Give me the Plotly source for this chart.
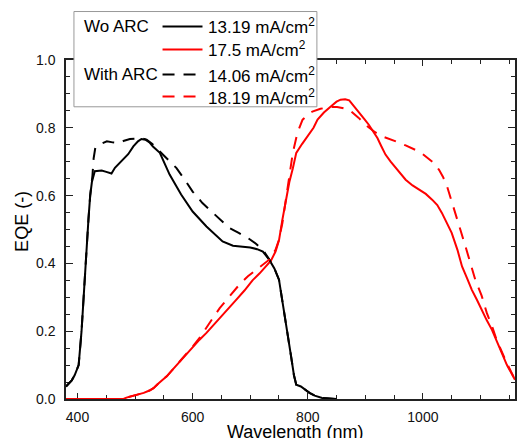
import plotly.graph_objects as go

# ---------------- data ----------------
wl_black_solid = [380, 385, 390, 395, 402, 407, 410, 413, 416, 419, 422, 425, 430, 436, 442, 450, 459, 465,
                  472, 480, 488, 497, 505, 511, 518, 525, 531, 543, 560, 580, 600, 624, 652, 670, 690, 700,
                  712, 722, 733, 742, 750, 756, 763, 771, 776, 780, 788, 795, 803, 812, 825, 850]
eqe_black_solid = [0.037, 0.045, 0.055, 0.07, 0.10, 0.20, 0.29, 0.37, 0.45, 0.53, 0.60, 0.64, 0.672, 0.674,
                   0.674, 0.670, 0.665, 0.682, 0.695, 0.708, 0.722, 0.745, 0.76, 0.767, 0.765, 0.757, 0.745,
                   0.726, 0.662, 0.603, 0.553, 0.509, 0.465, 0.452, 0.448, 0.447, 0.442, 0.435, 0.411, 0.385,
                   0.352, 0.29, 0.22, 0.126, 0.07, 0.042, 0.037, 0.027, 0.018, 0.01, 0.003, 0.0]

wl_black_dash = [380, 385, 390, 395, 402, 407, 410, 413, 416, 419, 422, 425, 426, 428, 431, 440, 451, 461,
                 471, 481, 491, 501, 511, 520, 530, 543, 557, 572, 587, 600, 617, 635, 650, 664, 680, 696,
                 710, 722, 733, 742, 750, 756, 763, 771, 776, 780, 788, 795, 803, 812, 825, 850]
eqe_black_dash = [0.037, 0.045, 0.055, 0.07, 0.10, 0.20, 0.29, 0.37, 0.45, 0.53, 0.60, 0.64, 0.66, 0.71,
                  0.742, 0.752, 0.760, 0.757, 0.755, 0.762, 0.767, 0.768, 0.770, 0.765, 0.752, 0.730, 0.705,
                  0.681, 0.645, 0.612, 0.578, 0.549, 0.525, 0.504, 0.49, 0.475, 0.458, 0.440, 0.412, 0.385,
                  0.352, 0.29, 0.22, 0.126, 0.07, 0.042, 0.037, 0.027, 0.018, 0.01, 0.003, 0.0]

wl_red_solid = [380, 480, 485, 495, 503, 515, 525, 532, 540, 548, 555, 566, 578, 590, 601, 612, 624, 636,
                647, 660, 676, 690, 704, 716, 726, 736, 744, 750, 756, 762, 768, 774, 780, 790, 800, 810,
                817, 828, 840, 850, 857, 865, 872, 880, 889, 898, 906, 914, 921, 928, 935, 944, 953, 962,
                970, 982, 993, 1005, 1016, 1025, 1033, 1042, 1050, 1060, 1068, 1077, 1085, 1094, 1102,
                1111, 1120, 1129, 1137, 1146, 1153, 1160]
eqe_red_solid = [0.0, 0.0, 0.004, 0.008, 0.011, 0.018, 0.025, 0.032, 0.045, 0.057, 0.067, 0.088, 0.111,
                 0.134, 0.155, 0.175, 0.195, 0.217, 0.239, 0.262, 0.293, 0.32, 0.35, 0.37, 0.39, 0.408,
                 0.435, 0.468, 0.53, 0.588, 0.64, 0.68, 0.726, 0.752, 0.775, 0.80, 0.824, 0.845, 0.863,
                 0.877, 0.883, 0.884, 0.881, 0.865, 0.844, 0.826, 0.809, 0.79, 0.770, 0.745, 0.721, 0.70,
                 0.681, 0.664, 0.647, 0.63, 0.617, 0.605, 0.588, 0.572, 0.549, 0.52, 0.49, 0.44, 0.391,
                 0.355, 0.322, 0.292, 0.263, 0.232, 0.204, 0.17, 0.136, 0.10, 0.08, 0.057]

wl_red_dash = [380, 480, 485, 495, 503, 515, 525, 532, 540, 548, 555, 566, 578, 590, 601, 612, 621, 634,
               647, 664, 681, 696, 710, 722, 733, 744, 750, 756, 762, 768, 774, 782, 791, 800, 808, 822,
               837, 851, 862, 872, 888, 904, 917, 929, 941, 953, 970, 987, 1000, 1013, 1020, 1028, 1035,
               1042, 1049, 1056, 1065, 1074, 1083, 1091, 1102, 1111, 1120, 1128, 1137, 1146, 1160]
eqe_red_dash = [0.0, 0.0, 0.004, 0.008, 0.011, 0.018, 0.025, 0.032, 0.045, 0.057, 0.067, 0.088, 0.111,
                0.134, 0.157, 0.180, 0.204, 0.236, 0.268, 0.303, 0.337, 0.362, 0.381, 0.395, 0.411, 0.44,
                0.47, 0.52, 0.585, 0.647, 0.726, 0.785, 0.824, 0.838, 0.848, 0.856, 0.861, 0.861, 0.858,
                0.853, 0.83, 0.804, 0.787, 0.775, 0.768, 0.760, 0.748, 0.735, 0.722, 0.706, 0.695, 0.676,
                0.655, 0.627, 0.59, 0.549, 0.50, 0.450, 0.40, 0.352, 0.305, 0.254, 0.215, 0.175, 0.14,
                0.105, 0.057]

legend_groups = ["Wo ARC", "", "With ARC", ""]
legend_labels = ["13.19 mA/cm<sup>2</sup>", "17.5 mA/cm<sup>2</sup>",
                 "14.06 mA/cm<sup>2</sup>", "18.19 mA/cm<sup>2</sup>"]
colors = ["#000000", "#ff0000", "#000000", "#ff0000"]
dashes = ["solid", "solid", "12px,9px", "12px,9px"]

x_title = "Wavelength (nm)"
y_title = "EQE (-)"

# ---------------- figure ----------------
series = [(wl_black_solid, eqe_black_solid), (wl_red_solid, eqe_red_solid),
          (wl_black_dash, eqe_black_dash), (wl_red_dash, eqe_red_dash)]

fig = go.Figure()
for (xs, ys), c, d in zip(series, colors, dashes):
    fig.add_trace(go.Scatter(x=xs, y=ys, mode="lines",
                             line=dict(color=c, width=2, dash=d), showlegend=False))

FONT = "Liberation Sans, Arial, sans-serif"
axis_common = dict(showgrid=False, zeroline=False, showline=True, linecolor="#222", linewidth=1.5,
                   mirror="allticks", ticks="inside", tickcolor="#222", tickwidth=1.2,
                   tickfont=dict(family=FONT, size=14, color="#111"), layer="below traces")

fig.update_xaxes(range=[380, 1160], tickvals=[400, 600, 800, 1000], ticklen=6,
                 minor=dict(dtick=50, tick0=400, ticks="inside", ticklen=4, tickcolor="#222", tickwidth=1.2),
                 ticklabelstandoff=4, **axis_common)
fig.update_yaxes(range=[0, 1.0], tickvals=[0, 0.2, 0.4, 0.6, 0.8, 1.0], tickformat=".1f", ticklen=7,
                 minor=dict(dtick=0.05, tick0=0, ticks="inside", ticklen=4, tickcolor="#222", tickwidth=1.2),
                 ticklabelstandoff=6, **axis_common)

# legend box (paper coordinates)
shapes = [dict(type="rect", xref="paper", yref="paper", x0=0.0177, x1=0.5588, y0=0.862, y1=1.143,
               fillcolor="white", line=dict(color="#999", width=1), layer="above")]
row_y = [1.099, 1.031, 0.957, 0.892]
annotations = []
for gname, lab, c, d, yy in zip(legend_groups, legend_labels, colors, dashes, row_y):
    shapes.append(dict(type="line", xref="paper", yref="paper", x0=0.215, x1=0.304, y0=yy, y1=yy,
                       line=dict(color=c, width=2, dash=d), layer="above"))
    annotations.append(dict(text=lab, xref="paper", yref="paper", x=0.3126, y=yy, xanchor="left",
                            yanchor="middle", showarrow=False, font=dict(family=FONT, size=17, color="#000")))
    if gname:
        annotations.append(dict(text=gname, xref="paper", yref="paper", x=0.0348, y=yy, xanchor="left",
                                yanchor="middle", showarrow=False,
                                font=dict(family=FONT, size=17, color="#000")))

annotations.append(dict(text=x_title, xref="paper", yref="paper", x=0.51, y=-0.097, xanchor="center",
                        yanchor="middle", showarrow=False, font=dict(family=FONT, size=18, color="#000")))
annotations.append(dict(text=y_title, xref="paper", yref="paper", x=-0.0976, y=0.523, xanchor="center",
                        yanchor="middle", textangle=-90, showarrow=False,
                        font=dict(family=FONT, size=18, color="#000")))

fig.update_layout(width=517, height=438, margin=dict(l=66, r=0, t=60, b=39),
                  paper_bgcolor="white", plot_bgcolor="white", shapes=shapes, annotations=annotations,
                  showlegend=False)

fig.write_html("out.html")
